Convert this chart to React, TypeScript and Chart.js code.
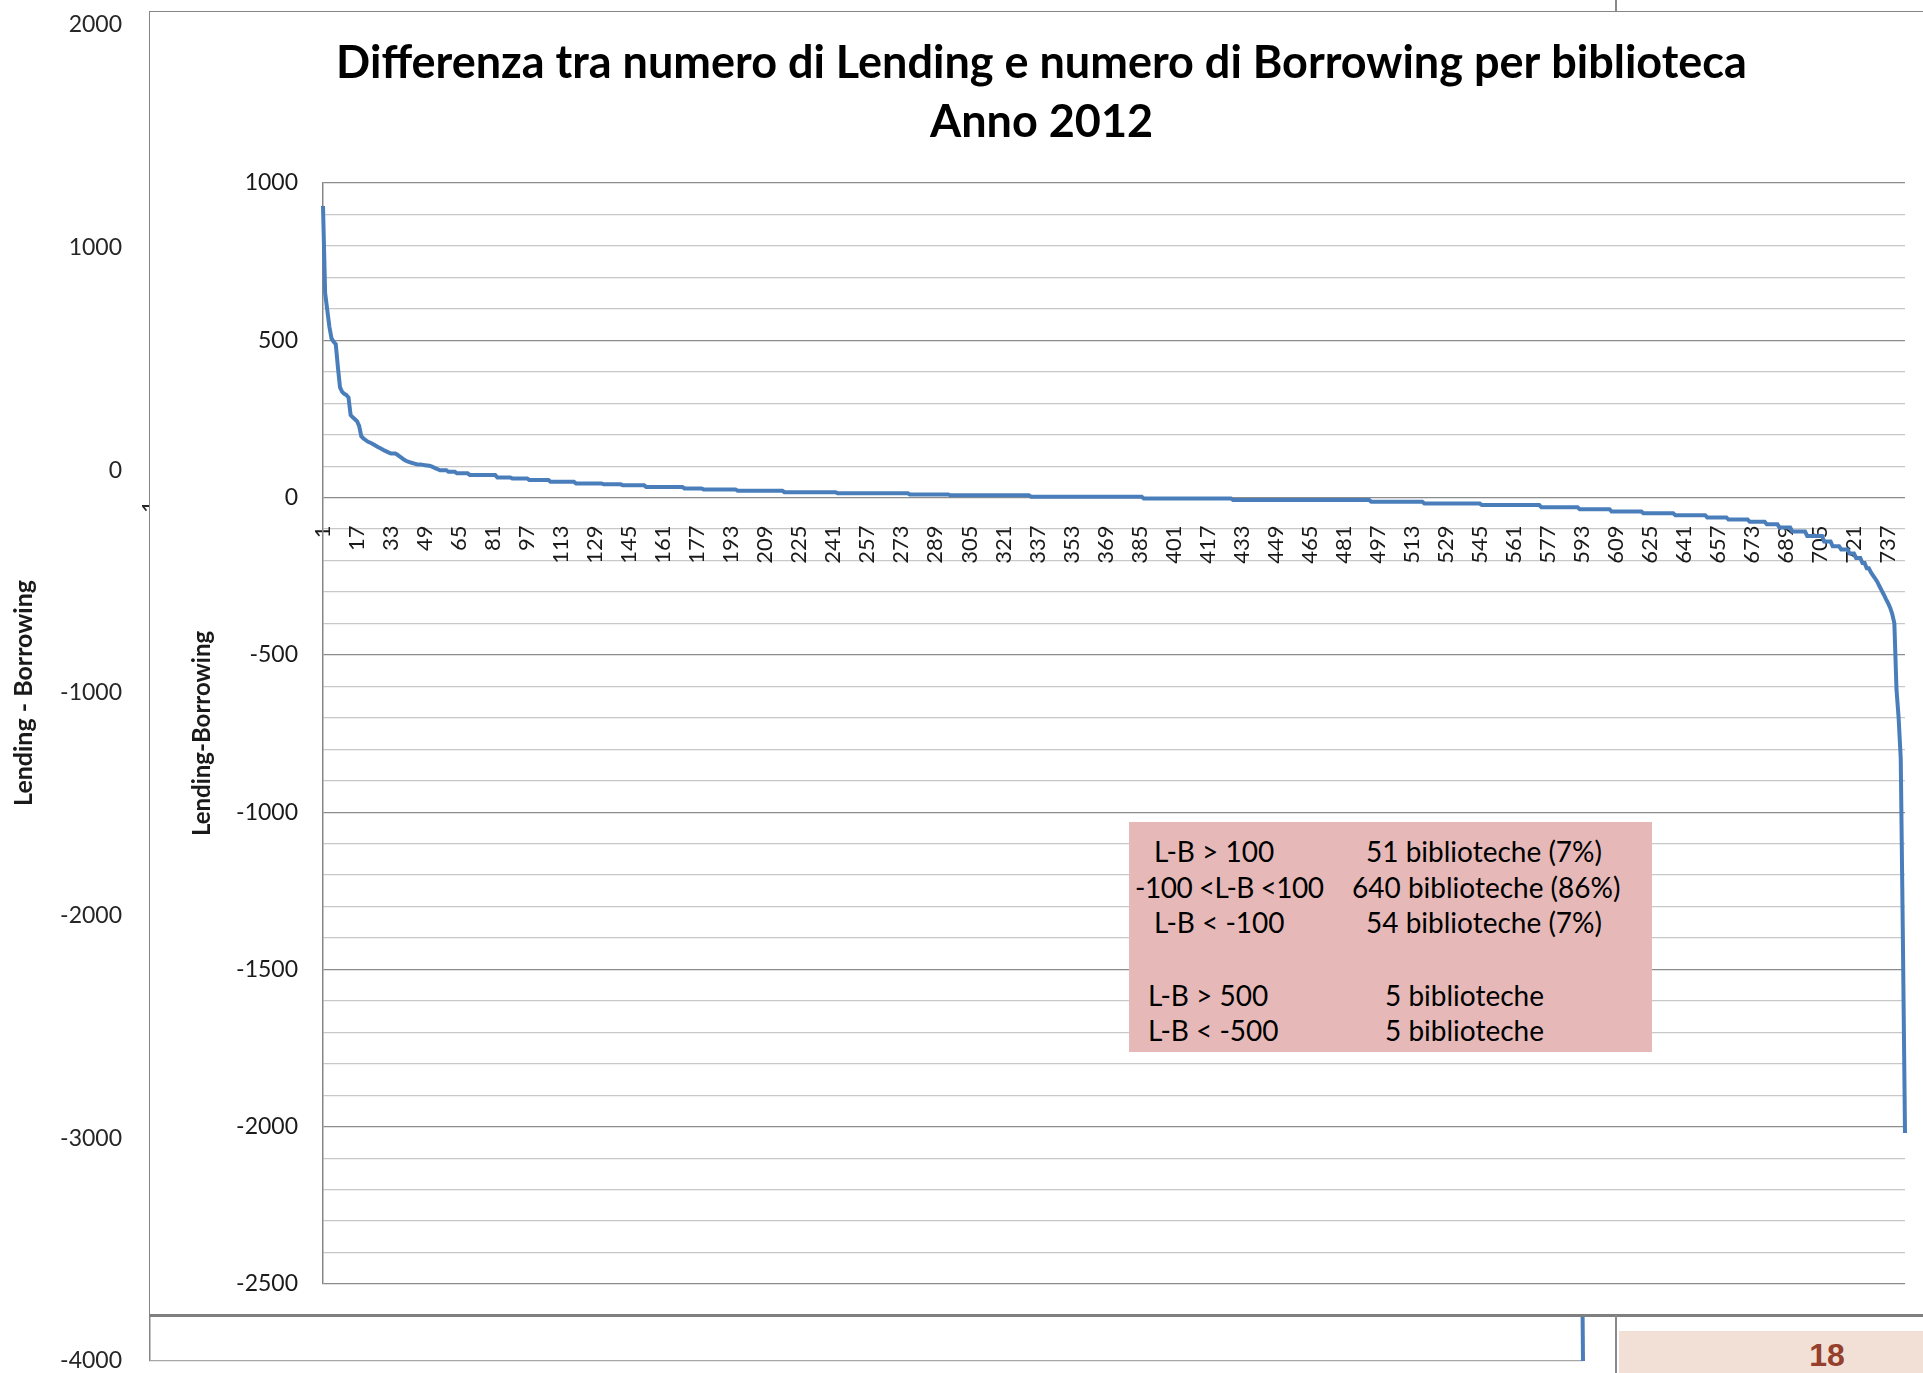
import React, { useEffect, useRef } from "react";
import { Chart, registerables } from "chart.js";

Chart.register(...registerables);

// ---------- DATA ----------
const titleLines = [
  "Differenza tra numero di Lending e numero di Borrowing per biblioteca",
  "Anno 2012",
];
const innerAxisTitle = "Lending-Borrowing";
const outerAxisTitle = "Lending - Borrowing";

// Sorted L-B values per library, stored as plateaus (value, how many libraries)
const runValues = [
  927, 650, 596, 543, 506, 495, 488, 415, 350, 336, 330, 326, 318, 262, 255, 249, 243, 228, 195, 188, 183,
  178, 175, 172, 168, 164, 160, 157, 153, 149, 146, 143, 140, 136, 131, 126, 121, 117, 114, 112, 110, 108,
  106, 105, 104, 103, 102, 101, 99, 96, 93, 90, 87, 82, 77, 72, 64, 61, 56, 50, 45, 42, 39, 34, 29, 26, 22,
  17, 14, 10, 7, 3, -3, -8, -13, -19, -24, -31, -37, -44, -50, -56, -63, -70, -77, -85, -95, -108, -122,
  -140, -155, -165, -178, -192, -208, -225, -238, -248, -258, -268, -282, -295, -308, -322, -335, -350,
  -370, -400, -610, -700, -830, -1400, -2020,
];
const runLengths = [
  1, 1, 1, 1, 1, 1, 1, 1, 1, 1, 1, 1, 1, 1, 1, 1, 1, 1, 1, 1, 1,
  1, 1, 1, 1, 1, 1, 1, 1, 1, 1, 1, 3, 1, 1, 1, 1, 1, 1, 1, 1, 1,
  1, 2, 1, 1, 1, 1, 1, 1, 1, 1, 4, 4, 6, 13, 7, 8, 10, 12, 13, 9, 11, 18, 9, 16, 22,
  25, 34, 19, 38, 53, 42, 65, 25, 27, 28, 18, 15, 15, 15, 15, 10, 10, 8, 6, 6, 7, 8,
  4, 4, 4, 3, 3, 2, 2, 1, 1, 1, 1, 1, 1, 1, 1, 1, 1,
  1, 1, 1, 1, 1, 1, 1,
];

// Background (outer) chart: only its last two points are visible
const outerTailValues = [-3000, -4000];

const innerYTicks = { min: -2500, max: 1000, step: 100, labelEvery: 500 };
const outerYTicks = { min: -4000, max: 2000, step: 1000 };
const xLabelEvery = 16;

const noteLeft = ["L-B > 100", "-100 <L-B <100", "L-B < -100", "L-B > 500", "L-B < -500"];
const noteRight = ["51 biblioteche (7%)", "640 biblioteche (86%)", "54 biblioteche (7%)", "5 biblioteche", "5 biblioteche"];
const slideNumber = "18";

// ---------- derived ----------
const values: number[] = [];
runValues.forEach((v, i) => {
  for (let k = 0; k < runLengths[i]; k++) values.push(v);
});
const labels = values.map((_, i) => String(i + 1));
const outerData: (number | null)[] = labels.map(() => null);
outerTailValues.forEach((v, i) => {
  outerData[outerData.length - outerTailValues.length + i] = v;
});

const FONT = "Lato";
const LINE_BLUE = "#4a7ebb";

const noPadX = (s: any) => {
  s.paddingLeft = 0;
  s.paddingRight = 0;
};

export default function App() {
  const outerRef = useRef<HTMLCanvasElement>(null);
  const innerRef = useRef<HTMLCanvasElement>(null);

  useEffect(() => {
    Chart.defaults.font.family = FONT;
    const outer = new Chart(outerRef.current!, {
      type: "line",
      data: {
        labels,
        datasets: [
          {
            data: outerData,
            borderColor: LINE_BLUE,
            borderWidth: 4,
            pointRadius: 0,
            tension: 0,
            fill: false,
          },
        ],
      },
      options: {
        animation: false,
        responsive: false,
        maintainAspectRatio: false,
        layout: { padding: { left: 0, top: 25, right: 340, bottom: 12 } },
        plugins: { legend: { display: false }, tooltip: { enabled: false }, title: { display: false } },
        scales: {
          x: {
            type: "category",
            position: { y: 0 } as any,
            offset: false,
            afterFit: noPadX,
            grid: { display: false, drawTicks: false },
            border: { display: false },
            ticks: {
              autoSkip: false,
              minRotation: 90,
              maxRotation: 90,
              padding: 30,
              color: "#262626",
              font: { family: FONT, size: 22 },
              callback: (_v: any, i: number) => (i === 0 ? labels[0] : ""),
            },
          },
          y: {
            min: outerYTicks.min,
            max: outerYTicks.max,
            afterFit: (s: any) => {
              s.width = 150;
              s.paddingTop = 0;
              s.paddingBottom = 0;
            },
            grid: { color: "#a6a6a6", drawTicks: false, lineWidth: 1.2 },
            border: { display: true, color: "#868686", width: 1.5 },
            ticks: {
              stepSize: outerYTicks.step,
              autoSkip: false,
              padding: 28,
              color: "#262626",
              font: { family: FONT, size: 23, lineHeight: 1 },
              callback: (v: any) => String(v),
            },
            title: {
              display: true,
              text: outerAxisTitle,
              color: "#1a1a1a",
              font: { family: FONT, size: 25, weight: "bold", lineHeight: 1.2 },
              padding: { top: 9, bottom: 0 },
            },
          },
        },
      },
    });

    const inner = new Chart(innerRef.current!, {
      type: "line",
      data: {
        labels,
        datasets: [
          {
            data: values,
            borderColor: LINE_BLUE,
            borderWidth: 4,
            pointRadius: 0,
            tension: 0,
            fill: false,
          },
        ],
      },
      options: {
        animation: false,
        responsive: false,
        maintainAspectRatio: false,
        layout: { padding: { left: 28, top: 0, right: 18, bottom: 31 } },
        plugins: {
          legend: { display: false },
          tooltip: { enabled: false },
          title: {
            display: true,
            text: titleLines,
            color: "#000",
            font: { family: FONT, size: 45, weight: "bold", lineHeight: 59 / 45 },
            padding: { top: 22, bottom: 31 },
          },
        },
        scales: {
          x: {
            type: "category",
            position: { y: 0 } as any,
            offset: false,
            afterFit: noPadX,
            grid: { display: false, drawTicks: false },
            border: { display: false },
            ticks: {
              autoSkip: false,
              minRotation: 90,
              maxRotation: 90,
              padding: 28,
              color: "#1a1a1a",
              font: { family: FONT, size: 22 },
              callback: (_v: any, i: number) => (i % xLabelEvery === 0 ? labels[i] : ""),
            },
          },
          y: {
            min: innerYTicks.min,
            max: innerYTicks.max,
            afterFit: (s: any) => {
              s.width = 145;
              s.paddingTop = 0;
              s.paddingBottom = 0;
            },
            grid: {
              drawTicks: false,
              lineWidth: 1.2,
              color: (ctx: any) =>
                ctx.tick && ctx.tick.value % innerYTicks.labelEvery === 0 ? "#8c8c8c" : "#c8c8c8",
            },
            border: { display: true, color: "#868686", width: 1.5 },
            ticks: {
              stepSize: innerYTicks.step,
              autoSkip: false,
              padding: 25,
              color: "#1a1a1a",
              font: { family: FONT, size: 23, lineHeight: 1 },
              callback: (v: any) => (Number(v) % innerYTicks.labelEvery === 0 ? String(v) : ""),
            },
            title: {
              display: true,
              text: innerAxisTitle,
              color: "#1a1a1a",
              font: { family: FONT, size: 24, weight: "bold", lineHeight: 1.2 },
              padding: { top: 9.6, bottom: 0 },
            },
          },
        },
      },
    });

    return () => {
      outer.destroy();
      inner.destroy();
    };
  }, []);

  const noteTops = [29, 65, 100, 173, 208];
  const noteLeftX = [25, 6, 25, 19, 19];
  const noteRightX = [237, 223, 237, 256, 256];
  const noteLeftSpacing = ["0px", "-0.5px", "0px", "0px", "0px"];

  return (
    <div
      style={{
        position: "fixed",
        left: 0,
        top: 0,
        width: 1923,
        height: 1373,
        background: "#fff",
        overflow: "hidden",
        fontFamily: FONT,
      }}
    >
      <canvas
        ref={outerRef}
        width={1923}
        height={1373}
        style={{ position: "absolute", left: 0, top: 0, width: 1923, height: 1373 }}
      />
      {/* top small vertical line of the slide element behind */}
      <div style={{ position: "absolute", left: 1615, top: 0, width: 2, height: 13, background: "#8a8a8a" }} />
      {/* inner chart frame */}
      <div
        style={{
          position: "absolute",
          left: 149,
          top: 11,
          width: 1790,
          height: 1306,
          boxSizing: "border-box",
          background: "#fff",
          borderLeft: "1.5px solid #868686",
          borderTop: "1.5px solid #868686",
          borderBottom: "3px solid #7f7f7f",
        }}
      />
      <canvas
        ref={innerRef}
        width={1773}
        height={1303}
        style={{ position: "absolute", left: 150, top: 12, width: 1773, height: 1303 }}
      />
      {/* annotation text box */}
      <div
        style={{
          position: "absolute",
          left: 1129,
          top: 822,
          width: 523,
          height: 230,
          background: "#e6b9b8",
          color: "#000",
          fontSize: 28,
        }}
      >
        {noteLeft.map((t, i) => (
          <div
            key={"l" + i}
            style={{
              position: "absolute",
              left: noteLeftX[i],
              top: noteTops[i],
              transform: "translateY(-50%)",
              whiteSpace: "pre",
              lineHeight: "32px",
              letterSpacing: noteLeftSpacing[i],
            }}
          >
            {t}
          </div>
        ))}
        {noteRight.map((t, i) => (
          <div
            key={"r" + i}
            style={{
              position: "absolute",
              left: noteRightX[i],
              top: noteTops[i],
              transform: "translateY(-50%)",
              whiteSpace: "pre",
              lineHeight: "32px",
            }}
          >
            {t}
          </div>
        ))}
      </div>
      {/* slide footer */}
      <div style={{ position: "absolute", left: 1615, top: 1315, width: 2, height: 58, background: "#8a8a8a" }} />
      <div
        style={{
          position: "absolute",
          left: 1619,
          top: 1331,
          width: 304,
          height: 42,
          background: "#f2e0d6",
        }}
      >
        <div
          style={{
            position: "absolute",
            left: 208,
            top: 24,
            transform: "translate(-50%, -50%)",
            fontFamily: "'Liberation Sans', Arial, sans-serif",
            fontWeight: "bold",
            fontSize: 32,
            color: "#953f2d",
            lineHeight: "36px",
          }}
        >
          {slideNumber}
        </div>
      </div>
    </div>
  );
}
